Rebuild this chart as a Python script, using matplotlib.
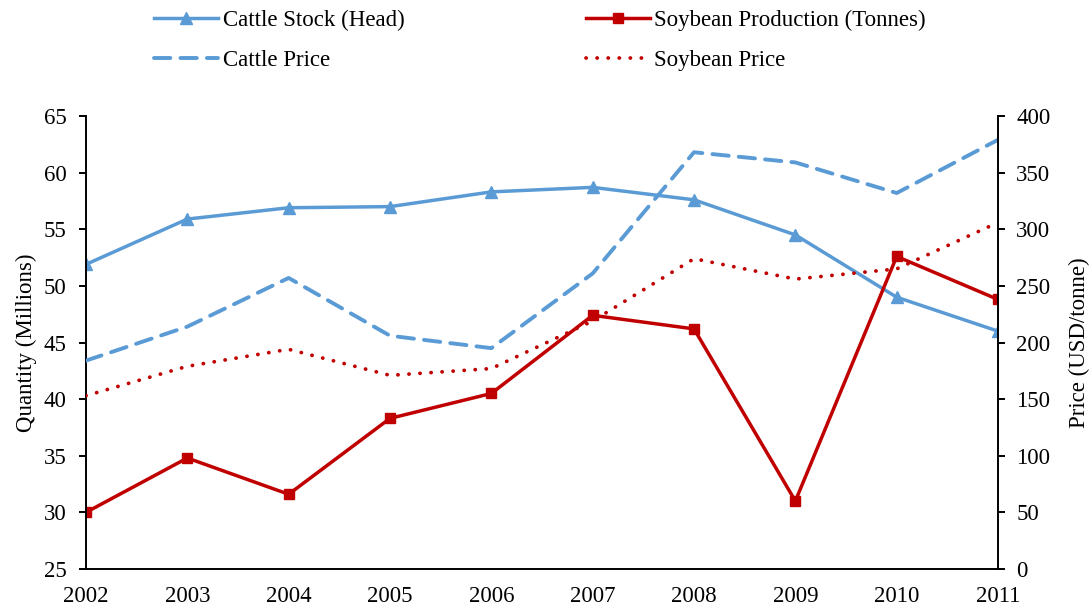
import matplotlib
matplotlib.use("Agg")
import matplotlib.pyplot as plt

YEARS = [2002, 2003, 2004, 2005, 2006, 2007, 2008, 2009, 2010, 2011]

# left axis (millions)
CATTLE_STOCK = [51.9, 55.9, 56.9, 57.0, 58.3, 58.7, 57.6, 54.5, 49.0, 46.0]
SOY_PRODUCTION = [30.0, 34.8, 31.6, 38.3, 40.5, 47.4, 46.2, 31.0, 52.6, 48.8]

# right axis (USD/tonne)
CATTLE_PRICE = [184, 214, 257, 206, 195, 261, 368, 359, 332, 379]
SOY_PRICE = [153, 179, 194, 171, 177, 219, 274, 256, 265, 306]

BLUE = "#5B9BD5"
RED = "#C00000"
FS = 16.5

plt.rcParams["font.family"] = ["Liberation Serif", "DejaVu Serif"]
plt.rcParams["font.size"] = FS

fig = plt.figure(figsize=(10.91, 6.09), dpi=100)
ax = fig.add_axes([0.0788, 0.0657, 0.8360, 0.7438])
ax2 = ax.twinx()

l1, = ax.plot(YEARS, CATTLE_STOCK, color=BLUE, lw=2.5, marker="^", ms=9,
              label="Cattle Stock (Head)")
l2, = ax.plot(YEARS, SOY_PRODUCTION, color=RED, lw=2.5, marker="s", ms=7.5,
              label="Soybean Production (Tonnes)")
l3, = ax2.plot(YEARS, CATTLE_PRICE, color=BLUE, lw=2.8, dashes=(4.2, 2.6),
               dash_capstyle="round", label="Cattle Price")
l4, = ax2.plot(YEARS, SOY_PRICE, color=RED, lw=2.7, linestyle=(0, (0.05, 2.9)),
               dash_capstyle="round", label="Soybean Price")

ax.set_xlim(2002, 2011)
ax.set_ylim(25, 65)
ax.set_yticks(range(25, 66, 5))
ax2.set_ylim(0, 400)
ax2.set_yticks(range(0, 401, 50))
ax.set_xticks(YEARS)

for a in (ax, ax2):
    a.spines["top"].set_visible(False)
    for s in a.spines.values():
        s.set_linewidth(1.4)
ax.spines["right"].set_visible(False)
ax2.spines["left"].set_visible(False)
ax2.spines["bottom"].set_visible(False)

ax.tick_params(axis="x", length=0, pad=12, labelsize=FS)
ax.tick_params(axis="y", direction="out", length=5, width=1.4, labelsize=FS, pad=9)
ax2.tick_params(axis="y", direction="out", length=5, width=1.4, labelsize=FS, pad=8)

ax.set_ylabel("Quantity (Millions)", fontsize=FS, labelpad=5)
ax2.set_ylabel("Price (USD/tonne)", fontsize=FS, rotation=90, labelpad=13)

fig.legend(handles=[l1, l3, l2, l4], ncol=2, loc="upper center",
           bbox_to_anchor=(0.495, 1.017), frameon=False, fontsize=FS,
           handlelength=2.8, handletextpad=0.2, columnspacing=7.9,
           labelspacing=0.8)

fig.savefig("out.png", dpi=100)
